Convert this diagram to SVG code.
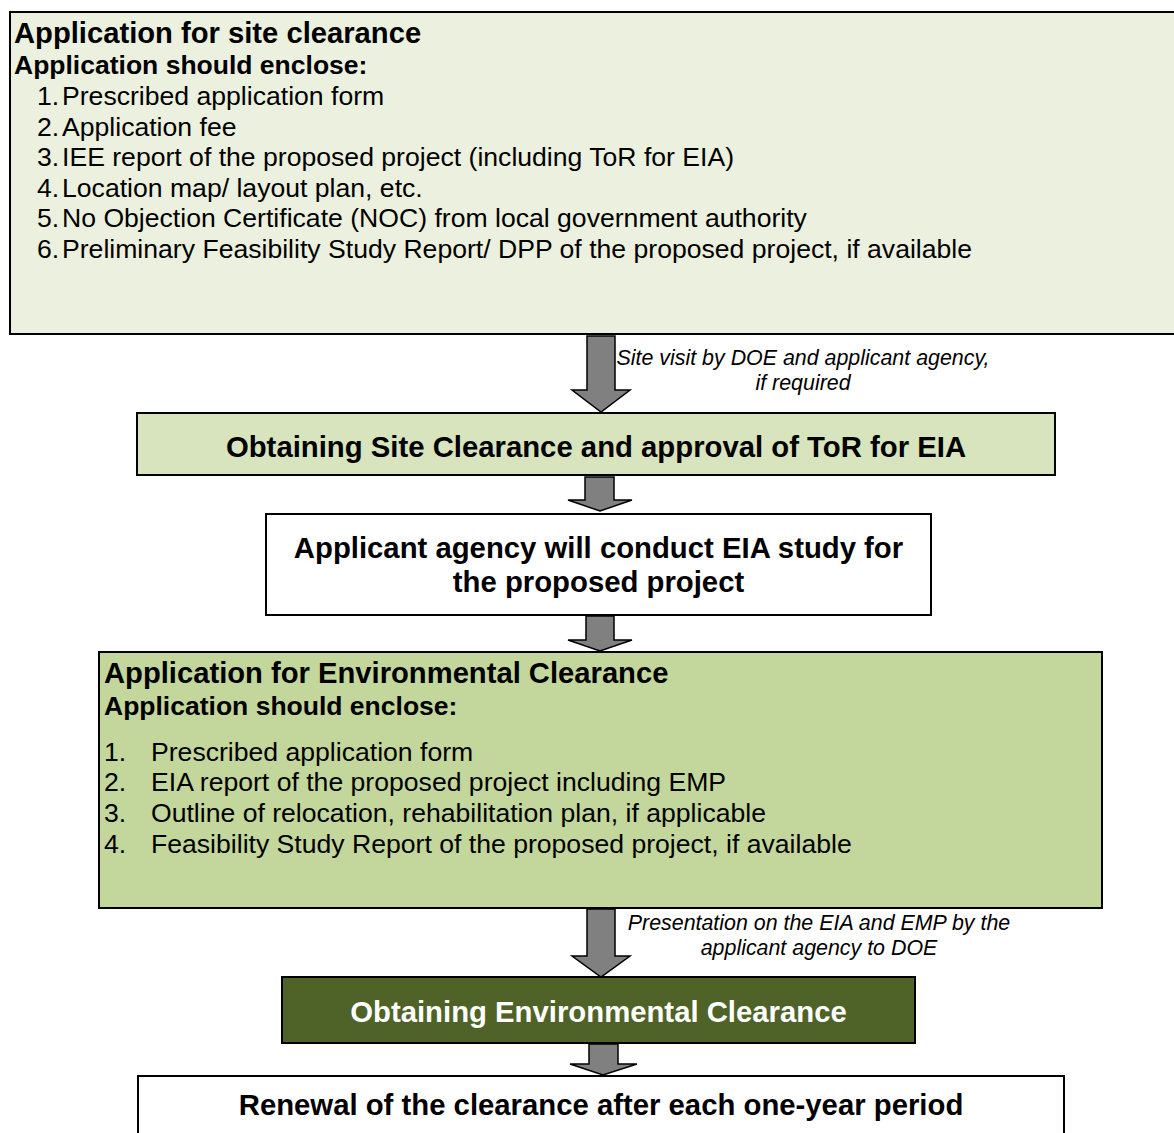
<svg xmlns="http://www.w3.org/2000/svg" width="1174" height="1133" viewBox="0 0 1174 1133">
<style>
.box{stroke:#000;stroke-width:2}
.t{font-family:"Liberation Sans",Arial,sans-serif;fill:#000}
.b{font-weight:bold;font-size:29.3px}
.h1{font-size:29.2px;font-weight:bold}
.h2{font-size:26.5px;font-weight:bold}
.li{font-size:26.6px}
.lab{font-size:21.4px;font-style:italic}
.arr{fill:#808080;stroke:#000;stroke-width:1.5;stroke-linejoin:miter}
</style>
<rect width="1174" height="1133" fill="#fff"/>
<g id="connectors">
<polygon class="arr" points="587,336 615,336 615,390 630,390 601,412 572,390 587,390"/>
<polygon class="arr" points="585,477 614,477 614,500 632,500 600,511 568,500 585,500"/>
<polygon class="arr" points="586,616 614,616 614,640 632,640 600,651 568,640 586,640"/>
<polygon class="arr" points="587,909 615,909 615,956 630,956 601,977 572,956 587,956"/>
<polygon class="arr" points="589,1044 618,1044 618,1064 637,1064 603,1075 570,1064 589,1064"/>
<text class="t lab" x="803" y="365" text-anchor="middle">Site visit by DOE and applicant agency,</text>
<text class="t lab" x="803" y="390" text-anchor="middle">if required</text>
<text class="t lab" x="819" y="930" text-anchor="middle">Presentation on the EIA and EMP by the</text>
<text class="t lab" x="819" y="955" text-anchor="middle">applicant agency to DOE</text>
</g>
<g id="node1">
<rect class="box" x="10" y="12" width="1180" height="322" fill="#EBF1DE"/>
<text class="t h1" x="14" y="43">Application for site clearance</text>
<text class="t h2" x="14" y="74">Application should enclose:</text>
<g class="t li">
<text x="37" y="105">1.</text><text x="62" y="105">Prescribed application form</text>
<text x="37" y="136">2.</text><text x="62" y="136">Application fee</text>
<text x="37" y="166">3.</text><text x="62" y="166">IEE report of the proposed project (including ToR for EIA)</text>
<text x="37" y="197">4.</text><text x="62" y="197">Location map/ layout plan, etc.</text>
<text x="37" y="227">5.</text><text x="62" y="227">No Objection Certificate (NOC) from local government authority</text>
<text x="37" y="258">6.</text><text x="62" y="258">Preliminary Feasibility Study Report/ DPP of the proposed project, if available</text>
</g>
</g>
<g id="node2">
<rect class="box" x="137" y="413" width="918" height="62" fill="#D7E4BD"/>
<text class="t b" x="596" y="457" text-anchor="middle">Obtaining Site Clearance and approval of ToR for EIA</text>
</g>
<g id="node3">
<rect class="box" x="266" y="514" width="665" height="101" fill="#fff"/>
<text class="t b" x="598.5" y="558" text-anchor="middle">Applicant agency will conduct EIA study for</text>
<text class="t b" x="598.5" y="592" text-anchor="middle">the proposed project</text>
</g>
<g id="node4">
<rect class="box" x="99" y="652" width="1003" height="256" fill="#C3D69B"/>
<text class="t h1" x="104" y="683">Application for Environmental Clearance</text>
<text class="t h2" x="104" y="715">Application should enclose:</text>
<g class="t li">
<text x="104" y="761">1.</text><text x="151" y="761">Prescribed application form</text>
<text x="104" y="791">2.</text><text x="151" y="791">EIA report of the proposed project including EMP</text>
<text x="104" y="822">3.</text><text x="151" y="822">Outline of relocation, rehabilitation plan, if applicable</text>
<text x="104" y="853">4.</text><text x="151" y="853">Feasibility Study Report of the proposed project, if available</text>
</g>
</g>
<g id="node5">
<rect class="box" x="282" y="977" width="633" height="66" fill="#4F6228"/>
<text class="t b" x="598.5" y="1022" text-anchor="middle" style="fill:#fff">Obtaining Environmental Clearance</text>
</g>
<g id="node6">
<rect class="box" x="138" y="1076" width="926" height="80" fill="#fff"/>
<text class="t b" x="601" y="1115" text-anchor="middle">Renewal of the clearance after each one-year period</text>
</g>
</svg>
